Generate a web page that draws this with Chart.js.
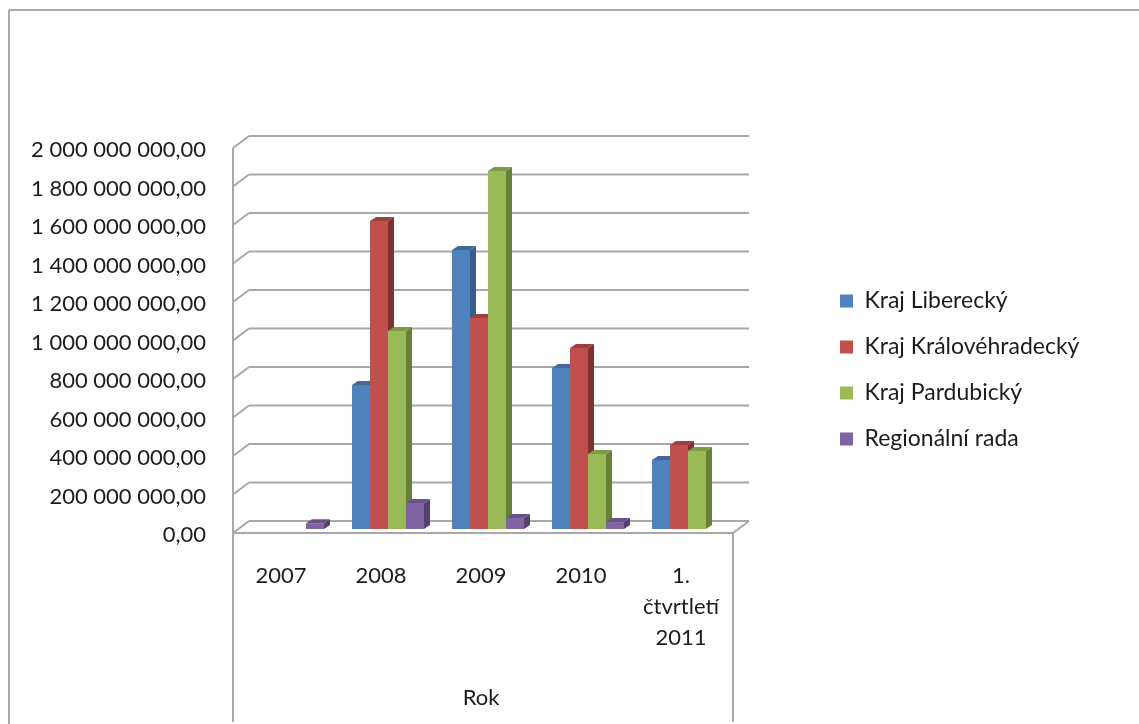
<!DOCTYPE html>
<html>
<head>
<meta charset="utf-8">
<script src="https://cdn.jsdelivr.net/npm/chart.js@4"></script>
<style>
  html, body { margin: 0; padding: 0; background: #fff; overflow: hidden; }
  canvas { display: block; filter: blur(0.6px); }
</style>
</head>
<body>
<canvas id="chart" width="1139" height="724"></canvas>
<script>
const categories = ['2007', '2008', '2009', '2010', ['1.', 'čtvrtletí', '2011']];
const liberecky = [0, 748000000, 1450000000, 836000000, 358000000];
const kralovehradecky = [0, 1600000000, 1096000000, 940000000, 436000000];
const pardubicky = [0, 1029000000, 1860000000, 390000000, 405000000];
const regionalniRada = [30000000, 135000000, 57000000, 36000000, 0];
const seriesNames = ['Kraj Liberecký', 'Kraj Královéhradecký', 'Kraj Pardubický', 'Regionální rada'];
const axisTitle = 'Rok';
const yMax = 2000000000;
const yStep = 200000000;

const fontFamily = 'Lato, sans-serif';
const fontSize = 22;
const textColor = '#1c1c1c';
const wallColor = '#a8a8a8';
const faces = [
  { front: '#4f81bd', side: '#375e8e', top: '#41699a' },
  { front: '#c0504d', side: '#7f3230', top: '#9c3f3d' },
  { front: '#9bbb59', side: '#69803a', top: '#7f9a47' },
  { front: '#8064a2', side: '#534070', top: '#6a5288' }
];

// bars stand in a plane between the front edge and the back wall
const barDepth = { x: 6, y: -4 };
const frontOffset = { x: -5, y: 4 };
const backOffset = { x: 11, y: -8 };

function formatTick(v) {
  return v.toFixed(0).replace(/\B(?=(\d{3})+$)/g, ' ') + ',00';
}

function line(ctx, x1, y1, x2, y2) {
  ctx.beginPath();
  ctx.moveTo(x1, y1);
  ctx.lineTo(x2, y2);
  ctx.stroke();
}

function drawWalls(chart) {
  const ctx = chart.ctx;
  const x = chart.scales.x;
  const y = chart.scales.y;
  const frontLeft = x.left + frontOffset.x;
  const frontRight = x.right + frontOffset.x;
  const backLeft = x.left + backOffset.x;
  const backRight = x.right + backOffset.x;
  ctx.save();
  ctx.strokeStyle = wallColor;
  ctx.lineWidth = 2;

  // chart frame
  line(ctx, 9, 10, 1139, 10);
  line(ctx, 9, 10, 9, 724);

  y.ticks.forEach(t => {
    const py = y.getPixelForValue(t.value);
    line(ctx, frontLeft, py + frontOffset.y, backLeft, py + backOffset.y);
    line(ctx, backLeft, py + backOffset.y, backRight, py + backOffset.y);
  });
  const zero = y.getPixelForValue(0);
  const top = y.getPixelForValue(yMax);
  line(ctx, frontLeft, top + frontOffset.y, frontLeft, 722);
  line(ctx, frontLeft, zero + frontOffset.y, frontRight, zero + frontOffset.y);
  line(ctx, frontRight, zero + frontOffset.y, backRight, zero + backOffset.y);
  line(ctx, frontRight, zero + frontOffset.y, frontRight, 722);
  ctx.restore();
}

function drawBarSides(chart, index) {
  const ctx = chart.ctx;
  const face = faces[index];
  ctx.save();
  chart.getDatasetMeta(index).data.forEach((bar, i) => {
    if (!chart.data.datasets[index].data[i]) return;
    const p = bar.getProps(['x', 'y', 'base', 'width'], true);
    const l = p.x - p.width / 2;
    const r = p.x + p.width / 2;
    ctx.fillStyle = face.side;
    ctx.beginPath();
    ctx.moveTo(r, p.y);
    ctx.lineTo(r + barDepth.x, p.y + barDepth.y);
    ctx.lineTo(r + barDepth.x, p.base + barDepth.y);
    ctx.lineTo(r, p.base);
    ctx.closePath();
    ctx.fill();
    ctx.fillStyle = face.top;
    ctx.beginPath();
    ctx.moveTo(l, p.y);
    ctx.lineTo(l + barDepth.x, p.y + barDepth.y);
    ctx.lineTo(r + barDepth.x, p.y + barDepth.y);
    ctx.lineTo(r, p.y);
    ctx.closePath();
    ctx.fill();
  });
  ctx.restore();
}

const walls = {
  id: 'walls',
  afterLayout(chart) {
    // move the legend to where the original sits
    chart.legend.left = 817;
    chart.legend.right = 1139;
    chart.legend.top -= 64;
    chart.legend.bottom -= 64;
    chart.legend.adjustHitBoxes();
  },
  beforeDatasetsDraw(chart) {
    drawWalls(chart);
    // paint left to right so each bar covers the side of the one before it
    chart.data.datasets.forEach((ds, i) => {
      chart.getDatasetMeta(i).controller.draw();
      drawBarSides(chart, i);
    });
    return false;
  },
  afterDraw(chart) {
    const ctx = chart.ctx;
    ctx.save();
    ctx.fillStyle = textColor;
    ctx.font = fontSize + 'px ' + fontFamily;
    ctx.textAlign = 'center';
    ctx.textBaseline = 'middle';
    ctx.fillText(axisTitle, chart.scales.x.getPixelForValue(2) - 7, 698);
    ctx.restore();
  }
};

function makeDataset(index, values) {
  return {
    label: seriesNames[index],
    data: values,
    backgroundColor: faces[index].front,
    categoryPercentage: 0.72,
    barPercentage: 1
  };
}

new Chart(document.getElementById('chart'), {
  type: 'bar',
  data: {
    labels: categories,
    datasets: [
      makeDataset(0, liberecky),
      makeDataset(1, kralovehradecky),
      makeDataset(2, pardubicky),
      makeDataset(3, regionalniRada)
    ]
  },
  options: {
    responsive: false,
    animation: false,
    layout: { padding: { top: 144, left: 0, right: 155, bottom: 0 } },
    plugins: {
      tooltip: { enabled: false },
      legend: {
        position: 'right',
        labels: {
          boxWidth: 13,
          boxHeight: 13,
          padding: 23,
          color: textColor,
          font: { family: fontFamily, size: 23 }
        }
      }
    },
    scales: {
      x: {
        grid: { display: false },
        border: { display: false },
        afterFit(s) { s.height = 195; },
        ticks: {
          color: textColor,
          font: { family: fontFamily, size: fontSize, lineHeight: 1.4 },
          labelOffset: -7,
          padding: 24,
          maxRotation: 0,
          autoSkip: false
        }
      },
      y: {
        min: 0,
        max: yMax,
        grid: { display: false },
        border: { display: false },
        afterFit(s) { s.width = 238; },
        ticks: {
          stepSize: yStep,
          color: textColor,
          font: { family: fontFamily, size: fontSize },
          padding: 24,
          labelOffset: 6,
          callback: formatTick
        }
      }
    }
  },
  plugins: [walls]
});
</script>
</body>
</html>
